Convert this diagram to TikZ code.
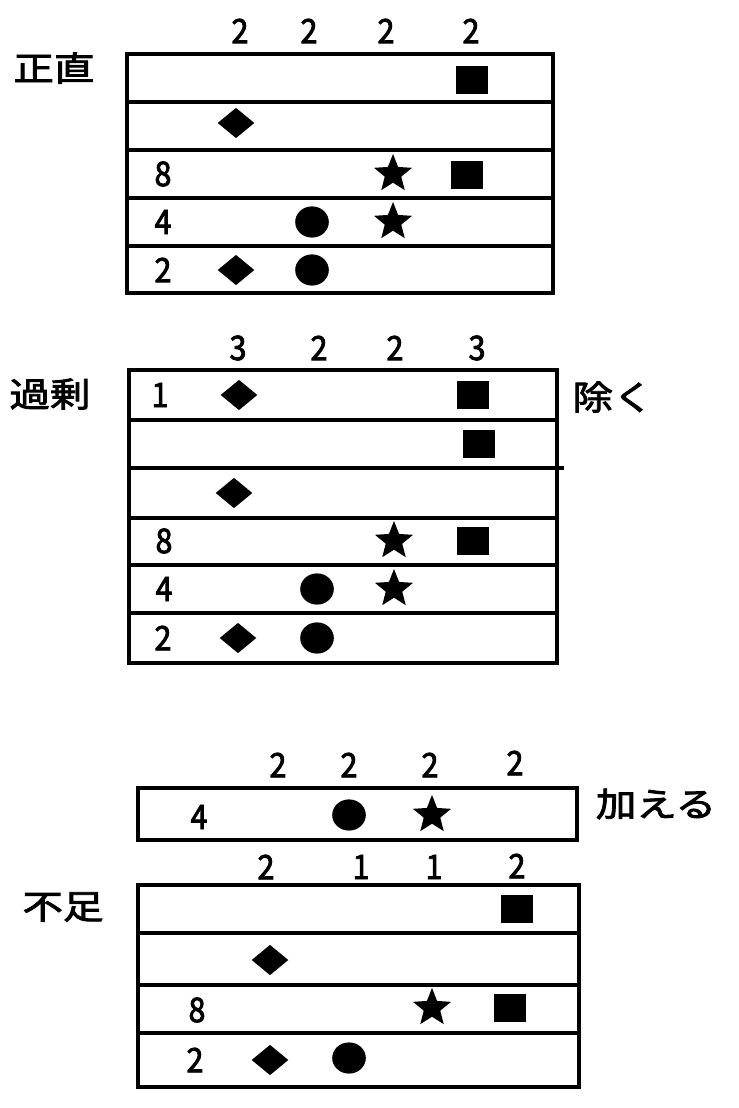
\documentclass[tikz,border=0pt]{standalone}
\usepackage{fontspec}
\setmainfont{Noto Sans CJK JP}[FakeBold=2.5, FakeStretch=0.9]
\newfontfamily\jpwide[FakeStretch=1.2, FakeBold=2.5]{Noto Sans CJK JP}
\usetikzlibrary{shapes.geometric}

\tikzset{
    num/.style={font=\fontsize{24}{24}\selectfont, inner sep=0pt},
    word/.style={font=\jpwide\fontsize{24}{24}\selectfont, inner sep=0pt},
    dia/.style={diamond, fill=black, minimum width=0.92cm, minimum height=0.76cm, inner sep=0pt},
    dot/.style={ellipse, fill=black, minimum width=0.84cm, minimum height=0.78cm, inner sep=0pt},
    sq/.style={rectangle, fill=black, minimum width=0.8cm, minimum height=0.7cm, inner sep=0pt},
    starmark/.style={star, star points=5, star point ratio=2.3, fill=black, minimum size=1cm, inner sep=0pt},
    frame/.style={line width=2.6pt}
}

\begin{document}
\begin{tikzpicture}[x=0.025cm, y=-0.025cm]
        \useasboundingbox (0,0) rectangle (738,1108);

        % Block 1: 正直
        \node[word] (w1) at (54,68) {正直};
        \node[num] (c11) at (240,31) {2};
        \node[num] (c12) at (309,31) {2};
        \node[num] (c13) at (386,31) {2};
        \node[num] (c14) at (471,31) {2};
        \draw[frame] (127,54) rectangle (553,293);
        \draw[frame] (127,102) -- (553,102);
        \draw[frame] (127,150) -- (553,150);
        \draw[frame] (127,198) -- (553,198);
        \draw[frame] (127,246) -- (553,246);
        \node[sq] (a1) at (472,80) {};
        \node[dia] (a2) at (236,123) {};
        \node[num] (n13) at (163,174) {8};
        \node[starmark] (a3) at (393,174) {};
        \node[sq] (a4) at (467,175) {};
        \node[num] (n14) at (163,222) {4};
        \node[dot] (a5) at (312,222) {};
        \node[starmark] (a6) at (393,222) {};
        \node[num] (n15) at (163,270) {2};
        \node[dia] (a7) at (236,270) {};
        \node[dot] (a8) at (312,270) {};

        % Block 2: 過剰
        \node[word] (w2) at (50,394) {過剰};
        \node[word] (w3) at (613,397) {除く};
        \node[num] (c21) at (238,348) {3};
        \node[num] (c22) at (319,348) {2};
        \node[num] (c23) at (395,348) {2};
        \node[num] (c24) at (477,348) {3};
        \draw[frame] (129,370) rectangle (557,663);
        \draw[frame] (129,420) -- (557,420);
        \draw[frame] (129,468) -- (564,468);
        \draw[frame] (129,518) -- (557,518);
        \draw[frame] (129,565) -- (557,565);
        \draw[frame] (129,613) -- (557,613);
        \node[num] (n21) at (160,395) {1};
        \node[dia] (b1) at (239,395) {};
        \node[sq] (b2) at (473,395) {};
        \node[sq] (b3) at (479,444) {};
        \node[dia] (b4) at (234,493) {};
        \node[num] (n24) at (164,541) {8};
        \node[starmark] (b5) at (394,541) {};
        \node[sq] (b6) at (473,541) {};
        \node[num] (n25) at (164,589) {4};
        \node[dot] (b7) at (317,589) {};
        \node[starmark] (b8) at (394,589) {};
        \node[num] (n26) at (163,638) {2};
        \node[dia] (b9) at (238,638) {};
        \node[dot] (b10) at (317,638) {};

        % Block 3: 加える
        \node[word] (w4) at (656,804) {加える};
        \node[num] (c31) at (278,765) {2};
        \node[num] (c32) at (349,765) {2};
        \node[num] (c33) at (430,765) {2};
        \node[num] (c34) at (515,763) {2};
        \draw[frame] (138,788) rectangle (577,840);
        \node[num] (n31) at (199,817) {4};
        \node[dot] (p1) at (349,815) {};
        \node[starmark] (p2) at (432,815) {};

        % Block 4: 不足
        \node[word] (w5) at (63,907) {不足};
        \node[num] (c41) at (266,867) {2};
        \node[num] (c42) at (361,867) {1};
        \node[num] (c43) at (434,867) {1};
        \node[num] (c44) at (517,866) {2};
        \draw[frame] (138,885) rectangle (579,1087);
        \draw[frame] (138,933) -- (579,933);
        \draw[frame] (138,985) -- (579,985);
        \draw[frame] (138,1033) -- (579,1033);
        \node[sq] (q1) at (517,909) {};
        \node[dia] (q2) at (270,960) {};
        \node[num] (n43) at (197,1010) {8};
        \node[starmark] (q3) at (432,1008) {};
        \node[sq] (q4) at (510,1008) {};
        \node[num] (n44) at (195,1060) {2};
        \node[dia] (q5) at (270,1060) {};
        \node[dot] (q6) at (349,1058) {};

    \end{tikzpicture}
\end{document}
